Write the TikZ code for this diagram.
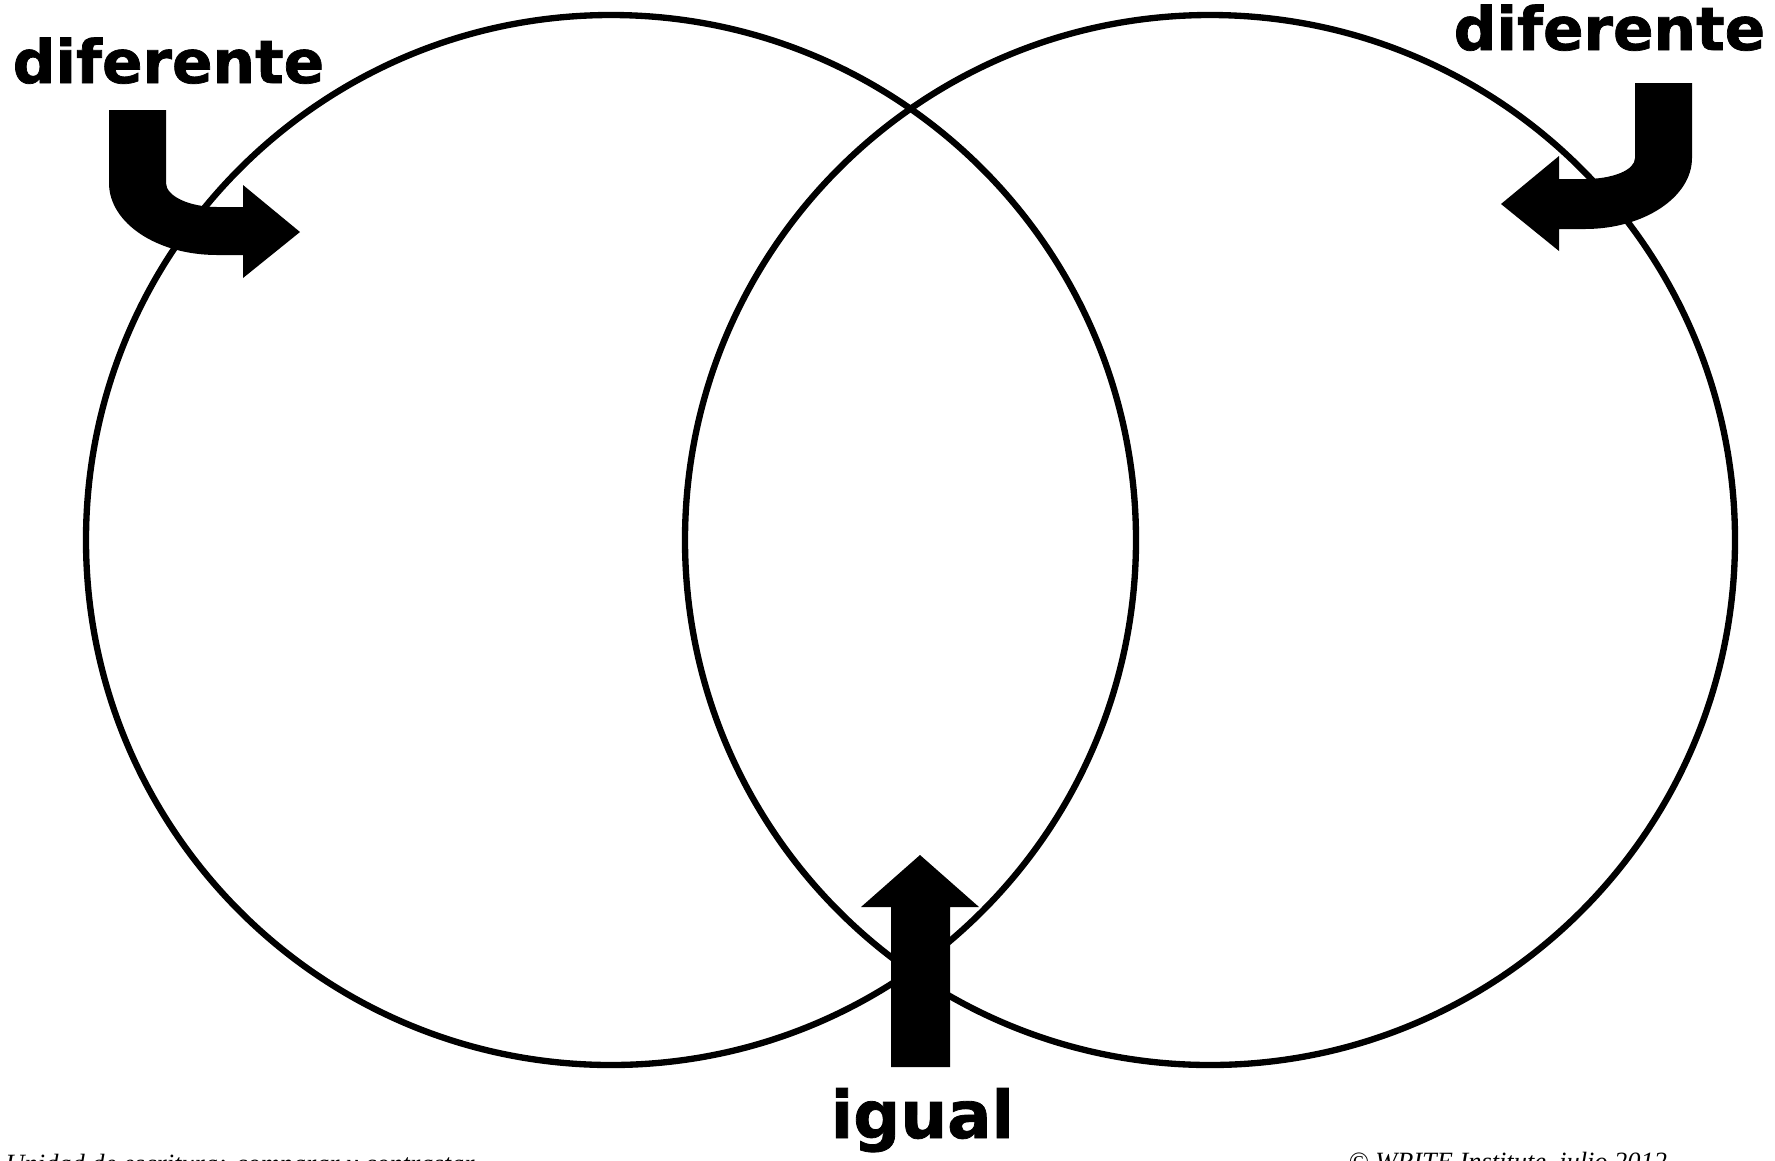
\documentclass[tikz,border=0pt]{standalone}
\usepackage{fontspec}
\usepackage{tkz-euclide}
\newfontfamily\heavyfont{DejaVu Sans Bold}[FakeBold=1.2]
\newfontfamily\footfont{Liberation Serif}
\tikzset{
  bigword/.style={font=\heavyfont\fontsize{17}{20}\selectfont,inner sep=0pt,anchor=base west},
  smallword/.style={font=\footfont\itshape\fontsize{7.5}{9}\selectfont,inner sep=0pt,anchor=base west},
  bentarrow/.style={fill=black}
}

\begin{document}
\begin{tikzpicture}[x=0.01cm,y=-0.01cm]
\useasboundingbox (0,0) rectangle (1775,1160);
\tkzSetUpLine[line width=1.8pt,color=black]

\tkzDefPoint(611,540){L}
\tkzDefPoint(1136,540){L1}
\tkzDefPoint(1210,540){R}
\tkzDefPoint(1735,540){R1}

\tkzDrawCircle[line width=1.8pt,color=black](L,L1)
\tkzDrawCircle[line width=1.8pt,color=black](R,R1)

% bent arrows
\fill[bentarrow] (109,110) -- (109,183)
  .. controls (109,223) and (157,255) .. (217,255)
  -- (243,255) -- (243,278) -- (300,232) -- (243,185) -- (243,207) -- (217,207)
  .. controls (189,207) and (166,196) .. (166,183)
  -- (166,110) -- cycle;
\fill[bentarrow] (1635,83) -- (1692,83) -- (1692,158)
  .. controls (1692,197) and (1644,229) .. (1585,229)
  -- (1559,229) -- (1559,251) -- (1501,204) -- (1559,156) -- (1559,179) -- (1585,179)
  .. controls (1613,179) and (1635,170) .. (1635,158)
  -- cycle;
\fill[bentarrow] (891,1067) -- (891,907) -- (861,907) -- (920,855)
  -- (979,907) -- (950,907) -- (950,1067) -- cycle;

\node[bigword] (difL) at (12,83) {diferente};
\node[bigword] (difR) at (1453,50) {diferente};
\node[bigword,font=\heavyfont\fontsize{18.7}{22}\selectfont] (igual) at (830,1138) {igual};

\node[smallword] (unidad) at (5,1172) {Unidad de escritura: comparar y contrastar};
\node[smallword] (write) at (1348,1170) {© WRITE Institute, julio 2012};

\end{tikzpicture}
\end{document}
